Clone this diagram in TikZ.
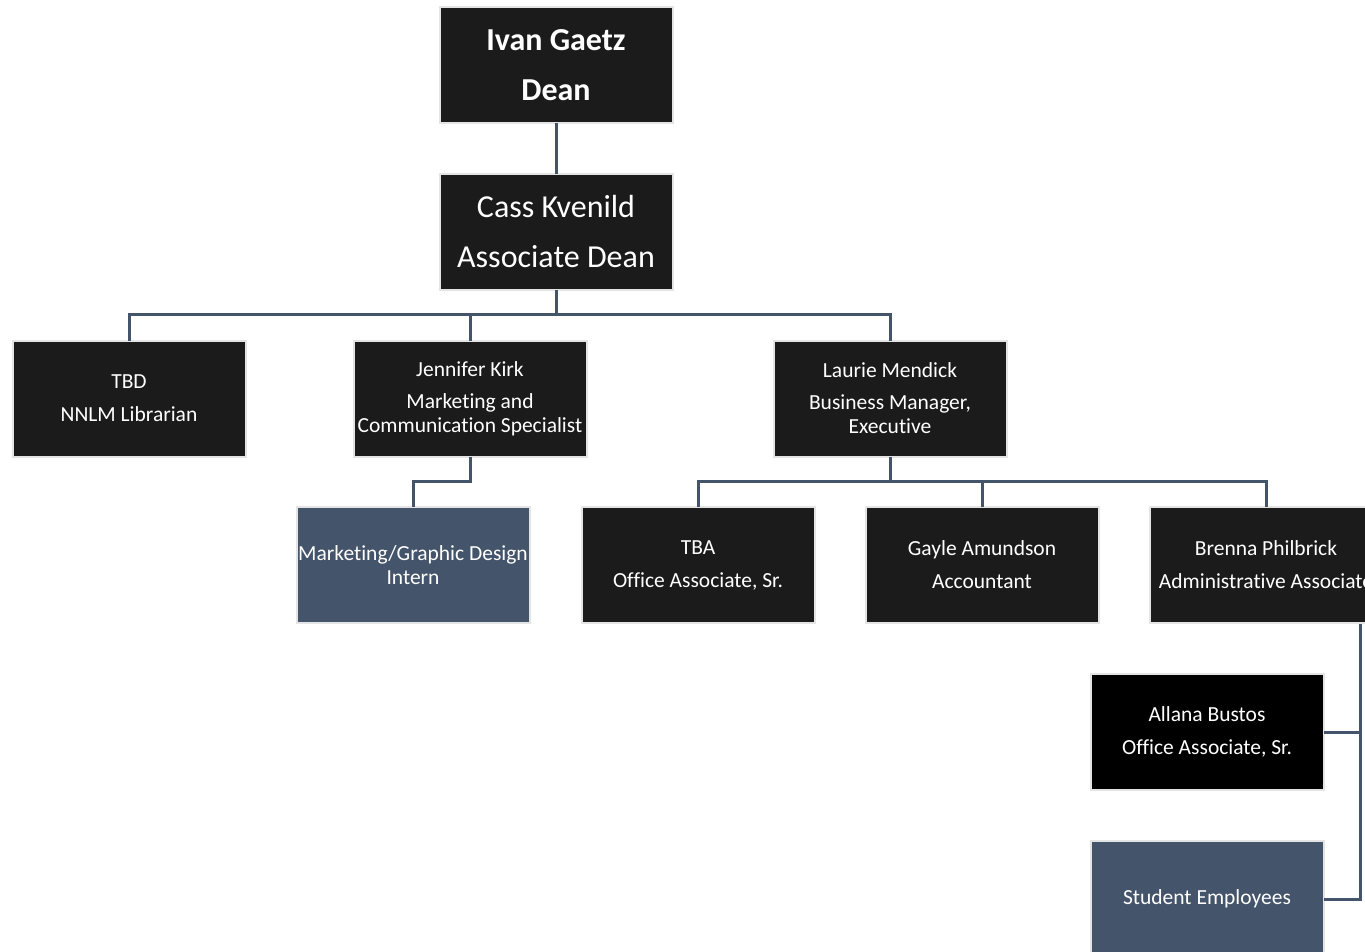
\documentclass[tikz,border=0pt]{standalone}
\usepackage{fontspec}
\setmainfont{Carlito}[Ligatures=NoCommon]
\definecolor{boxdark}{HTML}{1B1B1B}
\definecolor{boxblack}{HTML}{000000}
\definecolor{slate}{HTML}{44546A}
\definecolor{edgegray}{HTML}{E4E4E4}
\begin{document}
\begin{tikzpicture}[x=1pt,y=-1pt,
  box/.style={draw=edgegray,line width=2pt,fill=boxdark,text=white,minimum width=233pt,minimum height=116pt,inner sep=0pt,outer sep=0pt,align=center,font=\fontsize{21.5}{24}\selectfont},
  bigbox/.style={box,font=\fontsize{32}{50}\selectfont},
  link/.style={draw=slate,line width=3pt}]
\useasboundingbox (0,0) rectangle (1365,951);
\clip (0,0) rectangle (1365,951);
\fill[white] (0,0) rectangle (1365,951);
% connectors (drawn first, boxes on top)
\coordinate (deanc) at (556,65);
\coordinate (assocc) at (556,231.5);
\node[bigbox] (dean) at (deanc) {\textbf{Ivan Gaetz}\\\textbf{Dean}};
\node[bigbox] (assoc) at (assocc) {Cass Kvenild\\Associate Dean};
\node[box] (tbd) at (129,398.5) {TBD\\[9pt]NNLM Librarian};
\node[box] (kirk) at (470,398.5) {Jennifer Kirk\\[8pt]Marketing and\\Communication Specialist};
\node[box] (laurie) at (890,398.5) {Laurie Mendick\\[8pt]Business Manager,\\Executive};
\node[box,fill=slate] (intern) at (413,565) {Marketing/Graphic Design\\Intern};
\node[box] (tba) at (698,565) {TBA\\[9pt]Office Associate, Sr.};
\node[box] (gayle) at (982,565) {Gayle Amundson\\[9pt]Accountant};
\node[box] (brenna) at (1266,565) {Brenna Philbrick\\[9pt]Administrative Associate};
\node[box,fill=boxblack] (allana) at (1207,732) {Allana Bustos\\[9pt]Office Associate, Sr.};
\node[box,fill=slate] (student) at (1207,899) {Student Employees};
\coordinate (bj) at (1360,624);
\draw[link] (dean.south) -- (assoc.north);
\draw[link] (assoc.south) -- ++(0,25) coordinate (aj);
\draw[link] (aj) -| (tbd.north);
\draw[link] (aj) -| (kirk.north);
\draw[link] (aj) -| (laurie.north);
\draw[link] (kirk.south) -- ++(0,25) -| (intern.north);
\draw[link] (laurie.south) -- ++(0,25) coordinate (lj);
\draw[link] (lj) -| (tba.north);
\draw[link] (lj) -| (gayle.north);
\draw[link] (lj) -| (brenna.north);
\draw[link] (bj) |- (allana.east);
\draw[link] (bj) |- (student.east);
\end{tikzpicture}
\end{document}
